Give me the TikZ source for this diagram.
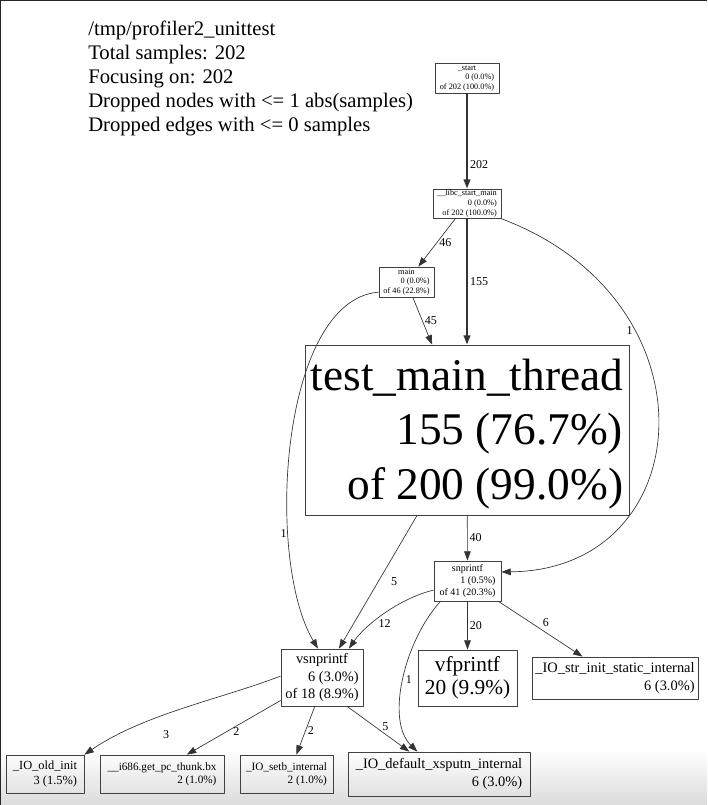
\documentclass[tikz,border=0pt]{standalone}
\usepackage{fontspec}
\setmainfont{Liberation Serif}
\usetikzlibrary{arrows.meta}

% first line centred, the others right-justified
\newcommand{\proflabel}[2]{\begin{tabular}{@{}r@{}}\multicolumn{1}{@{}c@{}}{#1}\\#2\end{tabular}}

\tikzset{
  fn/.style={draw=black!75, line width=0.6pt, inner sep=0pt},
  fnzero/.style={fn, font=\fontsize{6.2}{7.2}\selectfont},
  fnone/.style={fn, font=\fontsize{7.5}{8.8}\selectfont},
  fntwo/.style={fn, font=\fontsize{8.4}{10}\selectfont},
  fnthree/.style={fn, font=\fontsize{9.3}{11}\selectfont},
  fnsix/.style={fn, font=\fontsize{10.8}{13.2}\selectfont},
  edge/.style={draw=black!80, line width=0.5pt, -{Triangle[length=7pt,width=5pt]}},
  hotedge/.style={edge, line width=1.5pt},
  elabel/.style={font=\fontsize{9}{10}\selectfont, inner sep=1.5pt}
}

\begin{document}
\begin{tikzpicture}[x=0.75pt, y=-0.75pt, line join=round]
  \useasboundingbox (0,0) rectangle (707,805);

  % screen frame
  \shade[top color=white, bottom color=black!14] (0,750) rectangle (707,805);
  \draw[black!85, line width=1.2pt] (0,805) -- (0,0) -- (707,0);

  % header
  \node[anchor=north west, align=left, inner sep=0pt,
        font=\fontsize{15.5}{18}\selectfont] (title) at (88,21)
    {/tmp/profiler2\_unittest\\
     Total samples: 202\\
     Focusing on: 202\\
     Dropped nodes with <= 1 abs(samples)\\
     Dropped edges with <= 0 samples};

  % nodes
  \node[fnzero, minimum width=48pt, minimum height=22.5pt] (start) at (467,78)
    {\proflabel{\_start}{0 (0.0\%)\\of 202 (100.0\%)}};
  \node[fnzero, minimum width=51pt, minimum height=21.75pt] (libc) at (467,203.5)
    {\proflabel{\_\_libc\_start\_main}{0 (0.0\%)\\of 202 (100.0\%)}};
  \node[fnzero, minimum width=41.25pt, minimum height=22.5pt] (main) at (406.5,282)
    {\proflabel{main}{0 (0.0\%)\\of 46 (22.8\%)}};
  \node[fn, minimum width=243pt, minimum height=127.5pt,
        font=\fontsize{34}{41}\selectfont] (tmt) at (467,430)
    {\raisebox{-3pt}[\height][\depth]{\proflabel{test\_main\_thread}{155 (76.7\%)\\of 200 (99.0\%)}}};
  \node[fnone, minimum width=50.25pt, minimum height=30pt] (snprintf) at (467.5,581)
    {\proflabel{snprintf}{1 (0.5\%)\\of 41 (20.3\%)}};
  \node[fnsix, minimum width=61.5pt, minimum height=42.75pt] (vsnprintf) at (322,677.5)
    {\proflabel{vsnprintf}{6 (3.0\%)\\of 18 (8.9\%)}};
  \node[fn, minimum width=74.25pt, minimum height=42pt,
        font=\fontsize{16}{17.5}\selectfont] (vfprintf) at (467.5,678)
    {\proflabel{vfprintf}{20 (9.9\%)}};
  \node[fnsix, minimum width=124.5pt, minimum height=31.5pt] (strinit) at (615,678)
    {\proflabel{\_IO\_str\_init\_static\_internal}{6 (3.0\%)}};
  \node[fnthree, minimum width=58.5pt, minimum height=28.5pt] (oldinit) at (45,774)
    {\proflabel{\_IO\_old\_init}{3 (1.5\%)}};
  \node[fntwo, minimum width=93pt, minimum height=28.5pt] (thunk) at (162,774)
    {\proflabel{\_\_i686.get\_pc\_thunk.bx}{2 (1.0\%)}};
  \node[fntwo, minimum width=69.75pt, minimum height=28.5pt] (setb) at (286.5,774)
    {\proflabel{\_IO\_setb\_internal}{2 (1.0\%)}};
  \node[fnsix, minimum width=136.5pt, minimum height=33pt] (xsputn) at (439,774)
    {\proflabel{\_IO\_default\_xsputn\_internal}{6 (3.0\%)}};

  % edges
  \draw[hotedge] (start) -- node[elabel, pos=.75, right] {202} (libc);
  \draw[edge] (libc) -- node[elabel, pos=.5, right] {46} (main);
  \draw[hotedge] (libc) -- node[elabel, pos=.5, right] {155} (tmt);
  \draw[edge] (libc.-24) .. controls (720,300) and (700,570) .. node[elabel, pos=.3, left] {1} (snprintf.15);
  \draw[edge] (main) -- node[elabel, pos=.5, right] {45} (tmt);
  \draw[edge] (main.200) .. controls (280,300) and (265,560) .. node[elabel, pos=.7, left] {1} (vsnprintf.98);
  \draw[edge] (tmt) -- node[elabel, pos=.5, right=8pt] {5} (vsnprintf);
  \draw[edge] (tmt) -- node[elabel, pos=.5, right] {40} (snprintf);
  \draw[edge] (snprintf.195) .. controls (400,598) and (365,625) .. node[elabel, pos=.5, below=3pt] {12} (vsnprintf.47);
  \draw[edge] (snprintf) -- node[elabel, pos=.5, right] {20} (vfprintf);
  \draw[edge] (snprintf) -- node[elabel, pos=.5, above right] {6} (strinit);
  \draw[edge] (snprintf.-143) .. controls (405,640) and (385,720) .. node[elabel, pos=.5, right] {1} (xsputn.134);
  \draw[edge] (vsnprintf.178) .. controls (221,699) and (144,714) .. node[elabel, pos=.58, below=10pt] {3} (oldinit.north east);
  \draw[edge] (vsnprintf.-151) -- node[elabel, pos=.5, below right=-2pt] {2} (thunk.38);
  \draw[edge] (vsnprintf.-104) -- node[elabel, pos=.5, right] {2} (setb.63);
  \draw[edge] (vsnprintf.-49) -- node[elabel, pos=.55, above right=-1pt] {5} (xsputn.143);
\end{tikzpicture}
\end{document}
